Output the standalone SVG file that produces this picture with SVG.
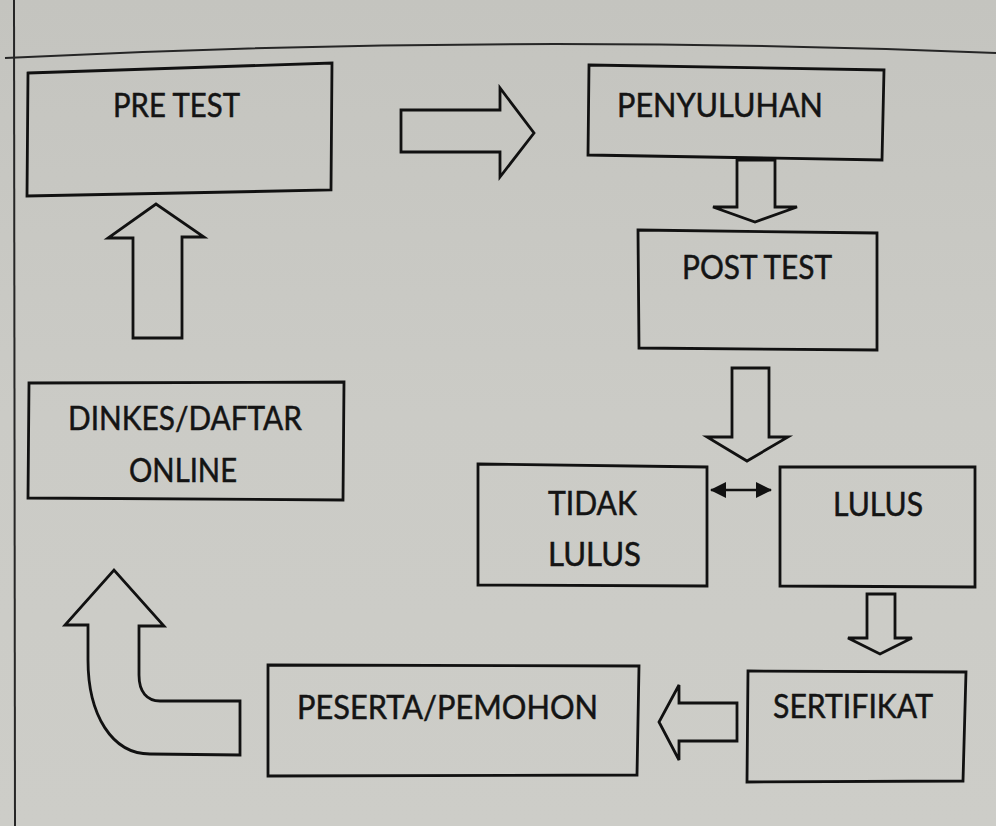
<svg xmlns="http://www.w3.org/2000/svg" width="996" height="826" viewBox="0 0 996 826">
  <defs>
    <linearGradient id="bg" x1="0" y1="0" x2="0" y2="1">
      <stop offset="0" stop-color="#c4c4bf"/>
      <stop offset="0.5" stop-color="#cbcbc6"/>
      <stop offset="1" stop-color="#cdcdc8"/>
    </linearGradient>
    <marker id="head" viewBox="0 0 16 16" refX="15" refY="8" markerWidth="16" markerHeight="16" markerUnits="userSpaceOnUse" orient="auto-start-reverse">
      <path d="M0,0 L16,8 L0,16 Z" fill="#111"/>
    </marker>
    <style>
      .box { fill: none; stroke: #111; stroke-width: 2.8; stroke-linejoin: miter; }
      .blk { fill: none; stroke: #111; stroke-width: 2.8; stroke-linejoin: miter; }
      .page { fill: none; stroke: #262626; stroke-width: 2; }
      .lbl { font-family: Lato, "Liberation Sans", sans-serif; font-size: 32px; fill: #141414; stroke: #141414; stroke-width: 0.5; }
    </style>
  </defs>

  <rect x="0" y="0" width="996" height="826" fill="url(#bg)"/>

  <g id="page-lines">
    <line class="page" x1="14" y1="0" x2="15" y2="826"/>
    <path class="page" d="M5,58 Q500,33 996,53"/>
  </g>

  <g id="connectors">
    <path class="blk" d="M401,110 L500,110 L500,88 L534,133 L500,177 L500,152 L401,152 Z"/>
    <path class="blk" d="M737,160 L775,160 L775,207 L797,207 L755,222 L713,207 L737,207 Z"/>
    <path class="blk" d="M732,368 L769,368 L769,437 L788,437 L747,461 L707,437 L732,437 Z"/>
    <line x1="711" y1="490" x2="771" y2="490" stroke="#111" stroke-width="2.6" marker-start="url(#head)" marker-end="url(#head)"/>
    <path class="blk" d="M867,594 L895,594 L895,638 L912,638 L880,654 L848,638 L867,638 Z"/>
    <path class="blk" d="M737,703 L737,741 L679,741 L679,760 L659,722 L679,685 L679,703 Z"/>
    <path class="blk" d="M240,701 L160,701 C147,701 139,692 139,675 L139,626 L164,626 L114,570 L65,625 L88,625 L88,660 C88,715 112,754 150,754 L240,755 Z"/>
    <path class="blk" d="M133,338 L182,338 L182,237 L204,237 L156,204 L108,238 L133,238 Z"/>
  </g>

  <g id="node-pretest">
    <polygon class="box" points="28,73 332,63 331,190 27,196"/>
    <text class="lbl" x="113" y="117" textLength="127" lengthAdjust="spacingAndGlyphs">PRE TEST</text>
  </g>

  <g id="node-penyuluhan">
    <polygon class="box" points="589,65 884,70 882,160 588,155"/>
    <text class="lbl" x="617" y="117" textLength="206" lengthAdjust="spacingAndGlyphs">PENYULUHAN</text>
  </g>

  <g id="node-posttest">
    <polygon class="box" points="638,230 877,233 877,350 639,348"/>
    <text class="lbl" x="682" y="279" textLength="150" lengthAdjust="spacingAndGlyphs">POST TEST</text>
  </g>

  <g id="node-dinkes">
    <polygon class="box" points="29,383 344,382 343,500 28,498"/>
    <text class="lbl" x="68" y="430" textLength="234" lengthAdjust="spacingAndGlyphs">DINKES/DAFTAR</text>
    <text class="lbl" x="129" y="482" textLength="108" lengthAdjust="spacingAndGlyphs">ONLINE</text>
  </g>

  <g id="node-tidak-lulus">
    <polygon class="box" points="478,464 707,467 707,586 478,585"/>
    <text class="lbl" x="548" y="515" textLength="89" lengthAdjust="spacingAndGlyphs">TIDAK</text>
    <text class="lbl" x="548" y="566" textLength="93" lengthAdjust="spacingAndGlyphs">LULUS</text>
  </g>

  <g id="node-lulus">
    <polygon class="box" points="780,467 975,467 975,587 780,586"/>
    <text class="lbl" x="833" y="516" textLength="90" lengthAdjust="spacingAndGlyphs">LULUS</text>
  </g>

  <g id="node-sertifikat">
    <polygon class="box" points="748,671 966,672 963,781 747,782"/>
    <text class="lbl" x="773" y="718" textLength="160" lengthAdjust="spacingAndGlyphs">SERTIFIKAT</text>
  </g>

  <g id="node-peserta">
    <polygon class="box" points="268,665 639,666 637,775 268,776"/>
    <text class="lbl" x="297" y="719" textLength="301" lengthAdjust="spacingAndGlyphs">PESERTA/PEMOHON</text>
  </g>
</svg>
